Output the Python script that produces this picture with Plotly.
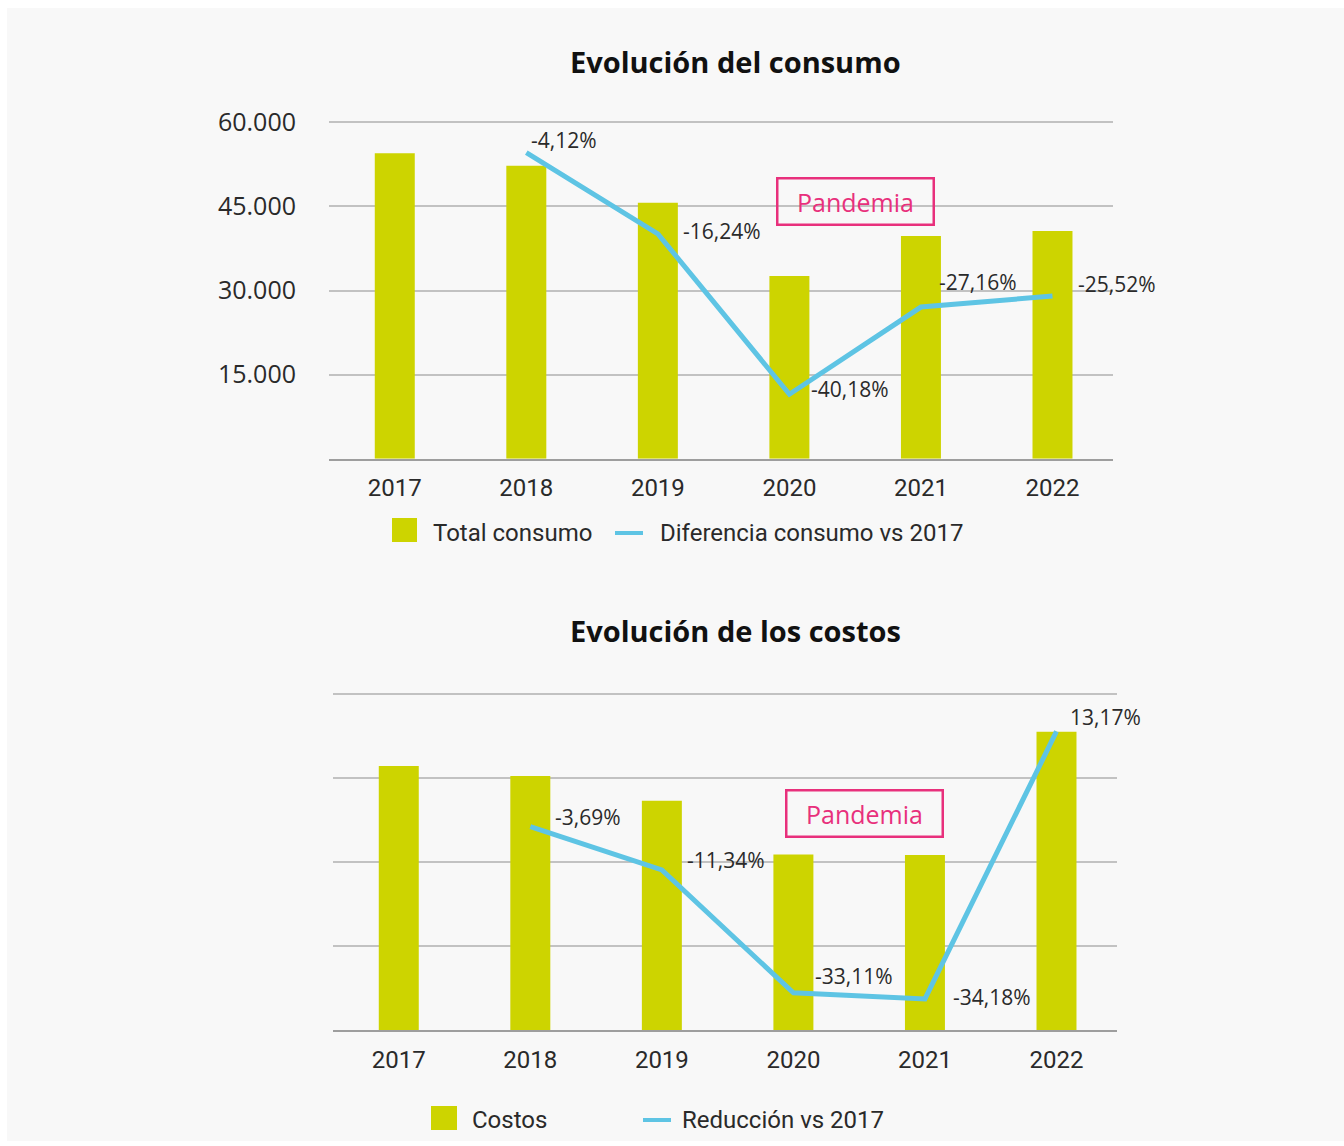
import plotly.graph_objects as go

W, H = 1344, 1146

years = ["2017", "2018", "2019", "2020", "2021", "2022"]
consumo = [54500, 52250, 45650, 32600, 39700, 40600]
consumo_diff_years = ["2018", "2019", "2020", "2021", "2022"]
consumo_diff = [-4.12, -16.24, -40.18, -27.16, -25.52]
consumo_diff_labels = ["-4,12%", "-16,24%", "-40,18%", "-27,16%", "-25,52%"]
y_ticks = [15000, 30000, 45000, 60000]
y_ticktext = ["15.000", "30.000", "45.000", "60.000"]

costos = [62.9, 60.5, 54.6, 41.8, 41.7, 71.0]
costos_diff_years = ["2018", "2019", "2020", "2021", "2022"]
costos_diff = [-3.69, -11.34, -33.11, -34.18, 13.17]
costos_diff_labels = ["-3,69%", "-11,34%", "-33,11%", "-34,18%", "13,17%"]

GREEN = "#cdd400"
BLUE = "#5ec4e4"
PINK = "#e8307c"
TXT = "#2a2a2a"
GRID = "#c2c2c2"

def px(x):
    return x / W

def py(y):
    return 1 - y / H

fig = go.Figure()

fig.add_trace(go.Bar(x=years, y=consumo, marker_color=GREEN, width=0.304,
                     xaxis="x", yaxis="y", showlegend=False))
fig.add_trace(go.Scatter(x=consumo_diff_years, y=consumo_diff, mode="lines",
                         line=dict(color=BLUE, width=5), xaxis="x", yaxis="y2",
                         showlegend=False))
fig.add_trace(go.Bar(x=years, y=costos, marker_color=GREEN, width=0.304,
                     xaxis="x2", yaxis="y3", showlegend=False))
fig.add_trace(go.Scatter(x=costos_diff_years, y=costos_diff, mode="lines",
                         line=dict(color=BLUE, width=5), xaxis="x2", yaxis="y4",
                         showlegend=False))

xcommon = dict(type="category", range=[-0.5, 5.46], showgrid=False,
               showline=True, linecolor="#9e9e9e", linewidth=1.5,
               ticks="", ticklabelstandoff=7, automargin=False,
               tickfont=dict(family="Roboto", size=24, color=TXT))
hidden = dict(showgrid=False, zeroline=False, showline=False, showticklabels=False,
              ticks="", automargin=False)

fig.update_layout(
    template="none",
    width=W, height=H,
    margin=dict(l=0, r=0, t=0, b=0, pad=0),
    paper_bgcolor="white", plot_bgcolor="rgba(0,0,0,0)",
    xaxis=dict(domain=[px(329), px(1113)], anchor="y", **xcommon),
    yaxis=dict(domain=[py(458.7), py(121.3)], anchor="x", range=[0, 60180],
               tickvals=y_ticks, ticktext=y_ticktext, showgrid=True,
               gridcolor=GRID, gridwidth=1.5, zeroline=False, ticks="",
               ticklabelstandoff=32, automargin=False, showline=False,
               tickfont=dict(family="Open Sans", size=25, color=TXT)),
    yaxis2=dict(overlaying="y", anchor="x", range=[-49.8, 0.57], **hidden),
    xaxis2=dict(domain=[px(333), px(1117)], anchor="y3", **xcommon),
    yaxis3=dict(domain=[py(1030.3), py(693)], anchor="x2", range=[0, 80.24],
                tickvals=[20, 40, 60, 80], showgrid=True, gridcolor=GRID, gridwidth=1.5,
                zeroline=False, showticklabels=False, ticks="", automargin=False,
                showline=False),
    yaxis4=dict(overlaying="y3", anchor="x2", range=[-39.74, 19.97], **hidden),
)

shapes = [
    dict(type="rect", xref="paper", yref="paper", x0=px(7), x1=1, y0=py(1141), y1=py(8),
         fillcolor="#f8f8f8", line=dict(width=0), layer="below"),
    dict(type="rect", xref="paper", yref="paper", x0=px(392), x1=px(417), y0=py(542), y1=py(518),
         fillcolor=GREEN, line=dict(width=0)),
    dict(type="line", xref="paper", yref="paper", x0=px(615), x1=px(643), y0=py(533), y1=py(533),
         line=dict(color=BLUE, width=4)),
    dict(type="rect", xref="paper", yref="paper", x0=px(431), x1=px(457), y0=py(1130), y1=py(1106),
         fillcolor=GREEN, line=dict(width=0)),
    dict(type="line", xref="paper", yref="paper", x0=px(643), x1=px(671), y0=py(1120), y1=py(1120),
         line=dict(color=BLUE, width=4)),
]
fig.update_layout(shapes=shapes)

ann = []
for t, y in [("<b>Evolución del consumo</b>", 61), ("<b>Evolución de los costos</b>", 630)]:
    ann.append(dict(text=t, x=px(735), y=py(y), xref="paper", yref="paper",
                    showarrow=False, xanchor="center", yanchor="middle",
                    font=dict(family="Open Sans", size=29, color="#111")))

leg_font = dict(family="Roboto", size=24, color=TXT)
for text, x, y in [("Total consumo", 431, 533), ("Diferencia consumo vs 2017", 658, 533),
                   ("Costos", 470, 1120), ("Reducción vs 2017", 680, 1120)]:
    ann.append(dict(text=text, x=px(x), y=py(y), xref="paper", yref="paper", showarrow=False,
                    xanchor="left", yanchor="middle", font=leg_font))

for cx, cy in [(855.5, 201), (864, 813)]:
    ann.append(dict(text="Pandemia", x=px(cx), y=py(cy), xref="paper", yref="paper",
                    showarrow=False, xanchor="center", yanchor="middle",
                    width=154, height=44, borderwidth=2.5, bordercolor=PINK, borderpad=0,
                    font=dict(family="Open Sans", size=25, color=PINK)))

lab_font = dict(family="Open Sans", size=21, color=TXT)
top_shifts = [(3, 13), (23, 3), (20, 5), (16, 25), (24, 12)]
for xv, yv, t, (dx, dy) in zip(consumo_diff_years, consumo_diff, consumo_diff_labels, top_shifts):
    ann.append(dict(text=t, x=years.index(xv), y=yv, xref="x", yref="y2", showarrow=False,
                    xanchor="left", yanchor="middle", xshift=dx, yshift=dy, font=lab_font))
bot_shifts = [(23, 10), (23, 10), (20, 17), (26, 2), (12, 14)]
for xv, yv, t, (dx, dy) in zip(costos_diff_years, costos_diff, costos_diff_labels, bot_shifts):
    ann.append(dict(text=t, x=years.index(xv), y=yv, xref="x2", yref="y4", showarrow=False,
                    xanchor="left", yanchor="middle", xshift=dx, yshift=dy, font=lab_font))

fig.update_layout(annotations=ann)
fig.write_html("out.html")
